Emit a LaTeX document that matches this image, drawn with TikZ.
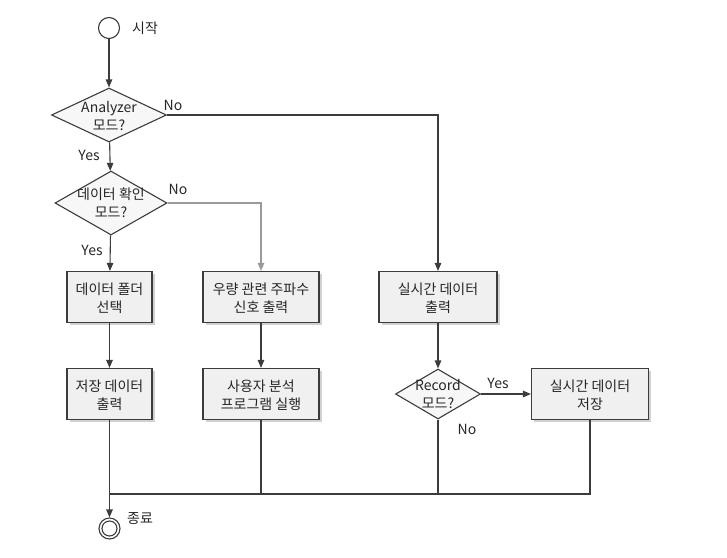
\documentclass[tikz,border=0pt]{standalone}
\usepackage{fontspec}
\setmainfont{Noto Sans CJK KR}
\usepackage{tikz}
\usetikzlibrary{shapes.geometric,arrows.meta,shadows}
\definecolor{lncol}{HTML}{3C3C3C}
\definecolor{lgcol}{HTML}{9A9A9A}
\definecolor{boxcol}{HTML}{F0F0F0}
\definecolor{deccol}{HTML}{F7F7F7}
\tikzset{
  ln/.style={draw=lncol,line width=1.1pt},
  arr/.style={ln,-{Triangle[width=6.5pt,length=8pt]}},
  txt/.style={font=\fontsize{14}{18}\selectfont,align=center,text=black!85,inner sep=0pt},
  prbox/.style={ln,fill=boxcol,rectangle,minimum height=51pt,
    drop shadow={shadow xshift=2.5pt,shadow yshift=-2.5pt,fill=black!30,opacity=.6}},
  prdec/.style={ln,fill=deccol,diamond,inner sep=0pt},
  prcirc/.style={ln,circle,minimum size=21pt,inner sep=0pt}
}
\newcommand{\prlabel}[3]{\node[txt] (#1) at (#2) {#3};}
\begin{document}
\begin{tikzpicture}[x=1pt,y=-1pt]
    \useasboundingbox (0,0) rectangle (727,557);

    \node[prcirc] (st) at (109,28) {};
    \node[txt,anchor=west] (sttx) at (132,28) {시작};

    \node[prdec,minimum width=115pt,minimum height=54pt] (an) at (109,115) {};
    \prlabel{antx}{109,116}{Analyzer\\모드?}
    \node[prdec,minimum width=112pt,minimum height=64pt] (dc) at (111,203) {};
    \prlabel{dctx}{111,203}{데이터 확인\\모드?}

    \node[prbox,minimum width=85pt] (fs) at (109.5,297) {};
    \prlabel{fstx}{109.5,298}{데이터 폴더\\선택}
    \node[prbox,minimum width=116pt] (rf) at (261,297) {};
    \prlabel{rftx}{261,298}{우량 관련 주파수\\신호 출력}
    \node[prbox,minimum width=118pt] (rt) at (438,297) {};
    \prlabel{rttx}{438,298}{실시간 데이터\\출력}

    \node[prbox,minimum width=85pt] (sd) at (109.5,394) {};
    \prlabel{sdtx}{109.5,395}{저장 데이터\\출력}
    \node[prbox,minimum width=116pt] (us) at (261,394) {};
    \prlabel{ustx}{261,395}{사용자 분석\\프로그램 실행}
    \node[prdec,minimum width=85pt,minimum height=50pt] (rc) at (438,394) {};
    \prlabel{rctx}{438,394}{Record\\모드?}
    \node[prbox,minimum width=117pt] (rs) at (590,394) {};
    \prlabel{rstx}{590,395}{실시간 데이터\\저장}

    \node[prcirc] (en) at (109.5,528.5) {};
    \draw[ln] (en) circle (7.5);
    \node[txt,anchor=west] (entx) at (127,519) {종료};

    \coordinate (jn) at (109.5,494);

    \draw[arr] (st) -- (an);
    \draw[arr] (an) -- (dc);
    \draw[arr] (an.east) -| (rt.north);
    \draw[arr,draw=lgcol] (dc.east) -| (rf.north);
    \draw[arr] (dc) -- (fs);
    \draw[arr] (fs) -- (sd);
    \draw[arr] (rf) -- (us);
    \draw[arr] (rt) -- (rc);
    \draw[arr] (rc) -- (rs);
    \draw[ln] (us.south) |- (jn);
    \draw[ln] (rc.south) |- (jn);
    \draw[ln] (rs.south) |- (jn);
    \draw[arr] (sd) -- (en);

    \prlabel{no1}{173,105}{No}
    \prlabel{ye1}{89,155}{Yes}
    \prlabel{no2}{178,189}{No}
    \prlabel{ye2}{92,250}{Yes}
    \prlabel{ye3}{498,383}{Yes}
    \prlabel{no3}{467,429}{No}
\end{tikzpicture}
\end{document}
